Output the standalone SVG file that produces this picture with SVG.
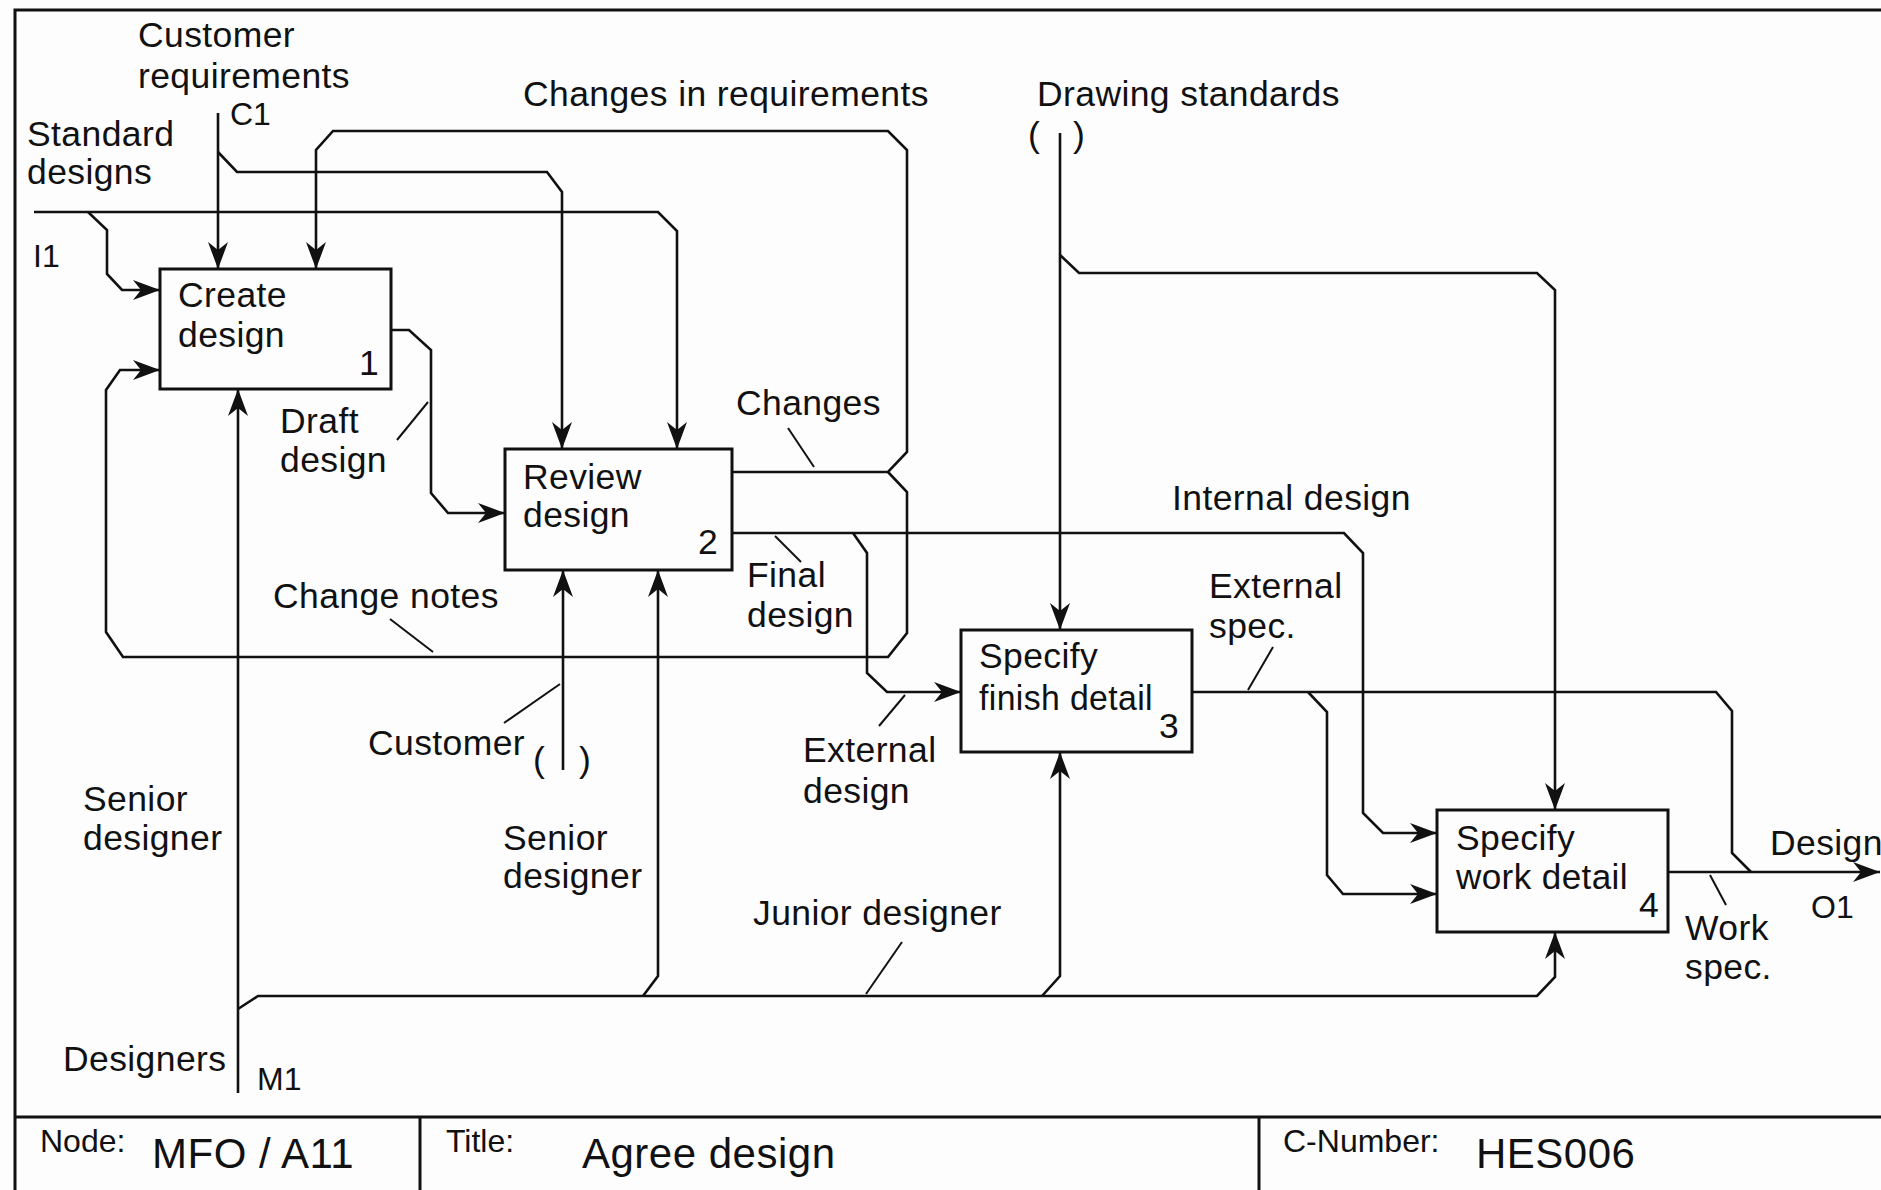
<svg xmlns="http://www.w3.org/2000/svg" width="1881" height="1190" viewBox="0 0 1881 1190">
<style>
  text { font-family: "Liberation Sans", Arial, sans-serif; font-size: 35.5px; letter-spacing: 0.4px; fill: #111; }
  .sm { font-size: 32px; letter-spacing: 0; }
  .big { font-size: 42px; letter-spacing: 0.5px; }
  .box { fill: #fdfdfd; stroke: #111; stroke-width: 3; }
  .ln { fill: none; stroke: #111; stroke-width: 2.6; }
  .arr { fill: none; stroke: #111; stroke-width: 2.6; marker-end: url(#ah); }
  .tick { fill: none; stroke: #111; stroke-width: 2; }
  .frame { fill: none; stroke: #111; stroke-width: 3; }
</style>
<defs>
  <marker id="ah" markerUnits="userSpaceOnUse" markerWidth="30" markerHeight="24" viewBox="-28 -12 30 24" refX="0" refY="0" orient="auto">
    <path d="M0,0 L-27,-10 L-19,0 L-27,10 Z" fill="#111"/>
  </marker>
</defs>
<rect x="0" y="0" width="1881" height="1190" fill="#fdfdfd"/>
<g id="frame">
  <path class="frame" d="M1881,10 H15 V1190"/>
  <path class="frame" d="M15,1117 H1881"/>
  <path class="frame" d="M420,1117 V1190"/>
  <path class="frame" d="M1259,1117 V1190"/>
</g>
<g id="connectors">
  <path class="arr" d="M218,113 V269"/>
  <path class="arr" d="M218,152 L237,172 H547 L562,192 V449"/>
  <path class="arr" d="M34,212 H658 L677,231 V449"/>
  <path class="arr" d="M88,212 L107,230 V274 L122,290 H160"/>
  <path class="arr" d="M732,472 H888 L907,452 V150 L888,131 H333 L316,150 V269"/>
  <path class="arr" d="M888,472 L907,492 V633 L888,657 H123 L106,632 V390 L120,370 H160"/>
  <path class="arr" d="M391,330 H409 L431,350 V493 L448,513 H505"/>
  <path class="arr" d="M732,533 H1344 L1363,553 V813 L1383,833 H1437"/>
  <path class="arr" d="M853,533 L867,553 V673 L887,692 H961"/>
  <path class="arr" d="M1060,133 V630"/>
  <path class="arr" d="M1060,255 L1079,273 H1537 L1555,290 V810"/>
  <path class="ln" d="M1192,692 H1716 L1732,711 V853 L1751,872"/>
  <path class="arr" d="M1308,692 L1327,712 V875 L1343,894 H1437"/>
  <path class="arr" d="M1668,872 H1880"/>
  <path class="arr" d="M238,1093 V389"/>
  <path class="arr" d="M238,1009 L258,996 H1537 L1555,977 V932"/>
  <path class="arr" d="M643,996 L658,976 V570"/>
  <path class="arr" d="M1042,996 L1060,976 V752"/>
  <path class="arr" d="M563,770 V570"/>
  <path class="tick" d="M428,402 L397,440"/>
  <path class="tick" d="M390,619 L433,652"/>
  <path class="tick" d="M788,428 L814,467"/>
  <path class="tick" d="M775,536 L801,562"/>
  <path class="tick" d="M560,684 L504,723"/>
  <path class="tick" d="M905,695 L879,726"/>
  <path class="tick" d="M1273,647 L1248,690"/>
  <path class="tick" d="M902,942 L866,994"/>
  <path class="tick" d="M1710,875 L1726,905"/>
</g>
<g id="node1">
  <rect class="box" x="160" y="269" width="231" height="120"/>
  <text x="178" y="307">Create</text>
  <text x="178" y="347">design</text>
  <text x="359" y="375">1</text>
</g>
<g id="node2">
  <rect class="box" x="505" y="449" width="227" height="121"/>
  <text x="523" y="489">Review</text>
  <text x="523" y="527">design</text>
  <text x="698" y="554">2</text>
</g>
<g id="node3">
  <rect class="box" x="961" y="630" width="231" height="122"/>
  <text x="979" y="668">Specify</text>
  <text x="979" y="710" textLength="174" lengthAdjust="spacingAndGlyphs">finish detail</text>
  <text x="1159" y="738">3</text>
</g>
<g id="node4">
  <rect class="box" x="1437" y="810" width="231" height="122"/>
  <text x="1456" y="850">Specify</text>
  <text x="1456" y="889" textLength="172" lengthAdjust="spacingAndGlyphs">work detail</text>
  <text x="1639" y="917">4</text>
</g>
<g id="labels">
  <text x="138" y="47">Customer</text>
  <text x="138" y="88">requirements</text>
  <text class="sm" x="230" y="125">C1</text>
  <text x="27" y="146">Standard</text>
  <text x="27" y="184">designs</text>
  <text class="sm" x="33" y="267">I1</text>
  <text x="523" y="106">Changes in requirements</text>
  <text x="1037" y="106">Drawing standards</text>
  <text x="1028" y="147">(</text>
  <text x="1073" y="147">)</text>
  <text x="280" y="433">Draft</text>
  <text x="280" y="472">design</text>
  <text x="736" y="415">Changes</text>
  <text x="1172" y="510">Internal design</text>
  <text x="747" y="587">Final</text>
  <text x="747" y="627">design</text>
  <text x="273" y="608">Change notes</text>
  <text x="1209" y="598">External</text>
  <text x="1209" y="638">spec.</text>
  <text x="368" y="755">Customer</text>
  <text x="533" y="772">(</text>
  <text x="579" y="772">)</text>
  <text x="803" y="762">External</text>
  <text x="803" y="803">design</text>
  <text x="83" y="811">Senior</text>
  <text x="83" y="850">designer</text>
  <text x="503" y="850">Senior</text>
  <text x="503" y="888">designer</text>
  <text x="753" y="925">Junior designer</text>
  <text x="1770" y="855">Design</text>
  <text class="sm" x="1811" y="918">O1</text>
  <text x="1685" y="940">Work</text>
  <text x="1685" y="979">spec.</text>
  <text x="63" y="1071">Designers</text>
  <text class="sm" x="257" y="1090">M1</text>
</g>
<g id="titleblock">
  <text class="sm" x="40" y="1152">Node:</text>
  <text class="big" x="152" y="1168">MFO / A11</text>
  <text class="sm" x="446" y="1152">Title:</text>
  <text class="big" x="582" y="1168">Agree design</text>
  <text class="sm" x="1283" y="1152">C-Number:</text>
  <text class="big" x="1476" y="1168">HES006</text>
</g>
</svg>
